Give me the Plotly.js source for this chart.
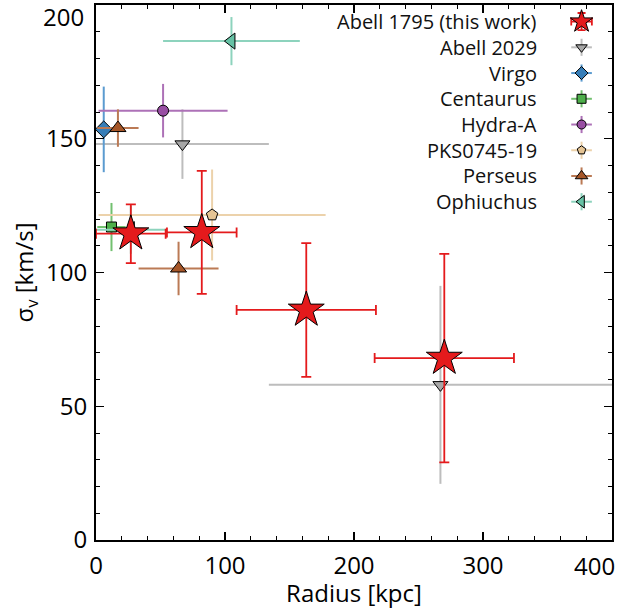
<!DOCTYPE html>
<html>
<head>
<meta charset="utf-8">
<script src="https://cdn.plot.ly/plotly-3.0.1.min.js"></script>
<style>html,body{margin:0;padding:0;background:#fff;overflow:hidden;}#chart{width:619px;height:609px;}</style>
</head>
<body>
<div id="chart"></div>
<script>
// ---- data ----
const a1795_x = [27, 82, 163, 270];
const a1795_xerr = [27, 27, 54, 54];
const a1795_y = [114.5, 115, 86, 68];
const a1795_yerr = [11, 23, 25, 39];

const a2029_x = [67, 267];
const a2029_xerr = [67, 133];
const a2029_y = [148, 58];
const a2029_yerr = [13, 37];

const virgo_x = [6];
const virgo_xerr = [0];
const virgo_y = [153.5];
const virgo_yerr = [16];

const cent_x = [12];
const cent_xerr = [11];
const cent_y = [117];
const cent_yerr = [9];

const hydra_x = [52];
const hydra_xerr = [50];
const hydra_y = [160.5];
const hydra_yerr = [10];

const pks_x = [90];
const pks_xerr = [88];
const pks_y = [121.5];
const pks_yerr = [17];

const pers_x = [17, 64];
const pers_xerr = [16, 31];
const pers_y = [154, 101.5];
const pers_yerr = [7, 10];

const oph_x = [105, 27];
const oph_xerr = [53, 27];
const oph_y = [186.5, 116];
const oph_yerr = [9, 9];

const legendNames = ["Abell 1795 (this work)", "Abell 2029", "Virgo", "Centaurus", "Hydra-A", "PKS0745-19", "Perseus", "Ophiuchus"];

const xTickVals = [0, 100, 200, 300, 400];
const xTickText = ["0", "100", "200", "300", "400"];
const yTickVals = [0, 50, 100, 150, 200];
const yTickText = ["0", "50", "100", "150", "200"];

// ---- styles ----
const FONT = "Open Sans";
const TICKSIZE = 24;
const series = [
  {name: legendNames[1], x: a2029_x, xe: a2029_xerr, y: a2029_y, ye: a2029_yerr, sym: "triangle-down", size: 13, fill: "#a6a6a6", bar: "#bdbdbd"},
  {name: legendNames[2], x: virgo_x, xe: virgo_xerr, y: virgo_y, ye: virgo_yerr, sym: "diamond", size: 13, fill: "#377eb8", bar: "#5b9bd0"},
  {name: legendNames[3], x: cent_x, xe: cent_xerr, y: cent_y, ye: cent_yerr, sym: "square", size: 10, fill: "#4daf4a", bar: "#72c06f"},
  {name: legendNames[4], x: hydra_x, xe: hydra_xerr, y: hydra_y, ye: hydra_yerr, sym: "circle", size: 11, fill: "#984ea3", bar: "#ad71b7"},
  {name: legendNames[5], x: pks_x, xe: pks_xerr, y: pks_y, ye: pks_yerr, sym: "pentagon", size: 12, fill: "#e5c494", bar: "#ecd2ab"},
  {name: legendNames[6], x: pers_x, xe: pers_xerr, y: pers_y, ye: pers_yerr, sym: "triangle-up", size: 14, fill: "#a65628", bar: "#bb7a55"},
  {name: legendNames[7], x: oph_x, xe: oph_xerr, y: oph_y, ye: oph_yerr, sym: "triangle-left", size: 14, fill: "#66c2a5", bar: "#8dd3bd"}
];
const red = {name: legendNames[0], x: a1795_x, xe: a1795_xerr, y: a1795_y, ye: a1795_yerr, sym: "star", size: 27, fill: "#e41a1c", bar: "#e41a1c"};

function mkTrace(s, isRed) {
  return {
    type: "scatter", mode: "markers", name: s.name, showlegend: false,
    x: s.x, y: s.y,
    error_x: {type: "data", array: s.xe, visible: true, color: s.bar, thickness: isRed ? 1.8 : 2, width: isRed ? 5 : 0},
    error_y: {type: "data", array: s.ye, visible: true, color: s.bar, thickness: isRed ? 1.8 : 2, width: isRed ? 5 : 0},
    marker: {symbol: s.sym, size: s.size, color: s.fill, line: {color: "#000", width: 1}},
    hoverinfo: "x+y"
  };
}

const traces = series.map(s => mkTrace(s, false));
traces.push(mkTrace(red, true));

// ---- hand-built legend (text left, marker right) on hidden overlay axes ----
const legAll = [red].concat(series);
const rowY0 = 0.969, rowStep = 0.0481;
const legX = 0.941;
const annotations = [];
legAll.forEach((s, i) => {
  const yy = rowY0 - i * rowStep;
  const isRed = i === 0;
  traces.push({
    type: "scatter", mode: "markers", xaxis: "x2", yaxis: "y2", showlegend: false, hoverinfo: "skip",
    x: [legX], y: [yy],
    error_x: {type: "data", array: [0.02], visible: true, color: s.bar, thickness: isRed ? 1.8 : 2, width: isRed ? 4 : 0},
    error_y: {type: "data", array: [0.016], visible: true, color: s.bar, thickness: isRed ? 1.8 : 2, width: isRed ? 4 : 0},
    marker: {symbol: s.sym, size: isRed ? 17 : Math.max(9, s.size - 3), color: s.fill, line: {color: "#000", width: 1}}
  });
  annotations.push({
    xref: "paper", yref: "paper", x: 0.8585, y: yy, xanchor: "right", yanchor: "middle",
    text: s.name, showarrow: false, font: {family: FONT, size: 20, color: "#111"}
  });
});

// end tick labels are nudged inside the canvas, as in the reference
annotations.push({
  xref: "paper", yref: "paper", x: 1, y: 0, xanchor: "right", yanchor: "middle",
  xshift: 4, yshift: -25, borderpad: 0, text: xTickText[xTickText.length - 1], showarrow: false,
  font: {family: FONT, size: TICKSIZE, color: "#000"}
});
annotations.push({
  xref: "paper", yref: "paper", x: 0, y: 1, xanchor: "right", yanchor: "middle",
  xshift: -11, yshift: -11, borderpad: 0, text: yTickText[yTickText.length - 1], showarrow: false,
  font: {family: FONT, size: TICKSIZE, color: "#000"}
});

const axCommon = {
  showgrid: false, zeroline: false, showline: true, linecolor: "#000", linewidth: 2,
  mirror: "allticks", ticks: "inside", ticklen: 8, tickwidth: 1.2, tickcolor: "#000",
  tickfont: {family: FONT, size: TICKSIZE, color: "#000"}, automargin: false
};

const layout = {
  width: 619, height: 609,
  margin: {l: 96, r: 7, t: 5, b: 69, pad: 0},
  paper_bgcolor: "#fff", plot_bgcolor: "#fff",
  showlegend: false,
  xaxis: Object.assign({}, axCommon, {
    range: [0, 400], tickvals: xTickVals.slice(0, -1), ticktext: xTickText.slice(0, -1),
    ticklabelstandoff: 3,
    minor: {dtick: 20, tick0: 0, ticks: "inside", ticklen: 4, tickwidth: 1, tickcolor: "#000"},
    title: {text: "Radius [kpc]", font: {family: FONT, size: 24, color: "#000"}, standoff: 4}
  }),
  yaxis: Object.assign({}, axCommon, {
    range: [0, 200], tickvals: yTickVals.slice(0, -1), ticktext: yTickText.slice(0, -1),
    ticklabelstandoff: 2,
    minor: {dtick: 10, tick0: 0, ticks: "inside", ticklen: 4, tickwidth: 1, tickcolor: "#000"},
    title: {text: "σ<sub>v</sub> [km/s]", font: {family: FONT, size: 24, color: "#000"}, standoff: 6}
  }),
  xaxis2: {overlaying: "x", range: [0, 1], visible: false, fixedrange: true},
  yaxis2: {overlaying: "y", range: [0, 1], visible: false, fixedrange: true},
  annotations: annotations
};

Plotly.newPlot("chart", traces, layout, {displayModeBar: false, staticPlot: true});
</script>
</body>
</html>
